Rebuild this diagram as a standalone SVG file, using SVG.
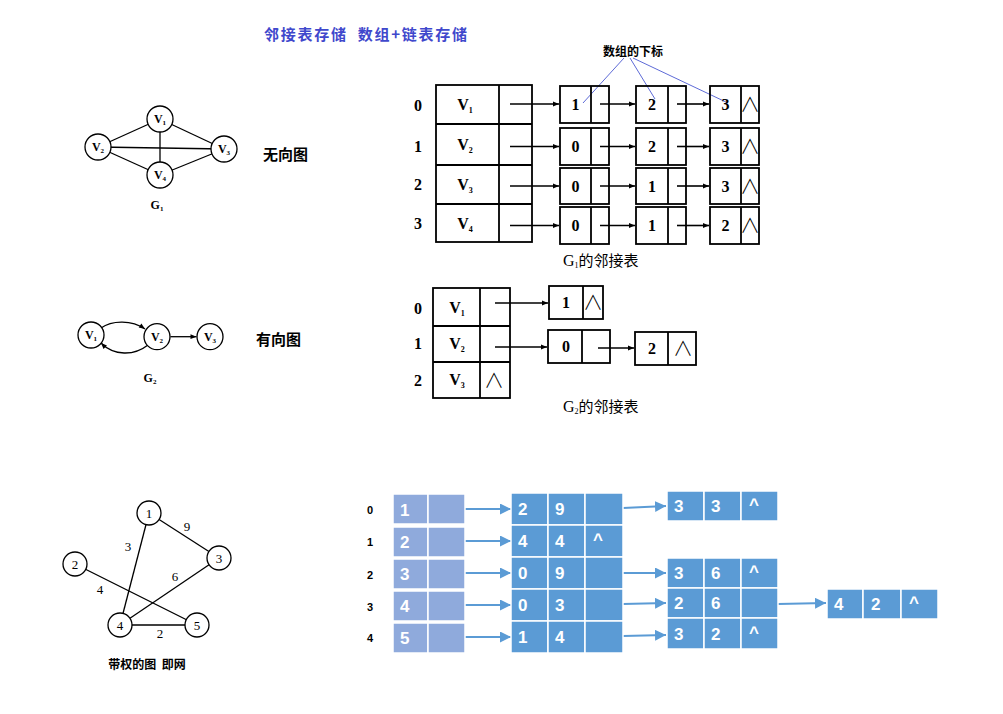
<svg xmlns="http://www.w3.org/2000/svg" width="1003" height="714" viewBox="0 0 1003 714">
<style>
.bg{fill:#fff}
.cir{fill:#fff;stroke:#000;stroke-width:1.3}
.edge{stroke:#000;stroke-width:1.3;fill:none}
.vl{font-family:"Liberation Serif",serif;font-size:12px;font-weight:bold;fill:#000;text-anchor:middle}
.sub{font-size:7px}
.cn{font-family:"Noto Sans CJK SC",sans-serif;font-weight:bold;fill:#000}
.box{fill:none;stroke:#000;stroke-width:1.8}
.dv{stroke:#000;stroke-width:1.8}
.num{font-family:"Liberation Serif",serif;font-size:16px;font-weight:bold;fill:#000;text-anchor:middle}
.nil{font-family:"Noto Sans CJK SC",sans-serif;font-size:20px;font-weight:300;fill:#000;text-anchor:middle}
.arr{stroke:#000;stroke-width:1.6;fill:none;marker-end:url(#ah)}
.ann{stroke:#3344cc;stroke-width:0.8;fill:none}
.hd{fill:#8faadc;stroke:#fff;stroke-width:1.5}
.nd{fill:#5b9bd5;stroke:#fff;stroke-width:1.5}
.wt{font-family:"Liberation Sans",sans-serif;font-size:17px;font-weight:bold;fill:#fff}
.bl{stroke:#5b9bd5;stroke-width:2;fill:none;marker-end:url(#bh)}
.ri{font-family:"Liberation Sans",sans-serif;font-size:11px;font-weight:bold;fill:#000;text-anchor:middle}
.wn{font-family:"Liberation Serif",serif;font-size:13px;fill:#000;text-anchor:middle}
</style>
<defs>
<marker id="ah" viewBox="0 0 10 10" refX="10" refY="5" markerWidth="8" markerHeight="6" markerUnits="userSpaceOnUse" orient="auto"><path d="M0,1 L10,5 L0,9 z" fill="#000"/></marker>
<marker id="ah2" viewBox="0 0 10 10" refX="10" refY="5" markerWidth="8" markerHeight="6" markerUnits="userSpaceOnUse" orient="auto"><path d="M0,1 L10,5 L0,9 z" fill="#000"/></marker>
<marker id="bh" viewBox="0 0 10 10" refX="10" refY="5" markerWidth="11" markerHeight="11" markerUnits="userSpaceOnUse" orient="auto"><path d="M0,0 L10,5 L0,10 z" fill="#5b9bd5"/></marker>
</defs>
<rect class="bg" x="0" y="0" width="1003" height="714"/>

<text x="264" y="40" font-family="Noto Sans CJK SC,sans-serif" font-weight="bold" font-size="15" fill="#3f48cc" textLength="203" style="white-space:pre">邻接表存储  数组+链表存储</text>

<!-- connectors -->
<g id="connectors">
  <!-- G1 edges -->
  <line class="edge" x1="160" y1="119" x2="98" y2="147"/>
  <line class="edge" x1="160" y1="119" x2="224" y2="149"/>
  <line class="edge" x1="160" y1="119" x2="160" y2="175"/>
  <line class="edge" x1="98" y1="147" x2="224" y2="149"/>
  <line class="edge" x1="98" y1="147" x2="160" y2="175"/>
  <line class="edge" x1="224" y1="149" x2="160" y2="175"/>
  <!-- G2 edges -->
  <path class="edge" d="M101,328 C112,320 132,320 145,329" marker-end="url(#ah2)"/>
  <path class="edge" d="M148,345 C134,356 114,356 101,343" marker-end="url(#ah2)"/>
  <line class="edge" x1="170.5" y1="336.7" x2="196.5" y2="336.7" marker-end="url(#ah2)"/>
  <!-- weighted graph edges -->
  <line class="edge" x1="149" y1="513" x2="219" y2="558"/>
  <line class="edge" x1="149" y1="513" x2="120" y2="625"/>
  <line class="edge" x1="75" y1="564" x2="197" y2="625"/>
  <line class="edge" x1="219" y1="558" x2="120" y2="625"/>
  <line class="edge" x1="120" y1="625" x2="197" y2="625"/>
  <!-- G1 table arrows -->
  <line class="arr" x1="510" y1="104" x2="559" y2="104"/>
  <line class="arr" x1="600" y1="104" x2="635" y2="104"/>
  <line class="arr" x1="677" y1="104" x2="709" y2="104"/>
  <line class="arr" x1="510" y1="146.5" x2="559" y2="146.5"/>
  <line class="arr" x1="600" y1="146.5" x2="635" y2="146.5"/>
  <line class="arr" x1="677" y1="146.5" x2="709" y2="146.5"/>
  <line class="arr" x1="510" y1="186" x2="559" y2="186"/>
  <line class="arr" x1="600" y1="186" x2="635" y2="186"/>
  <line class="arr" x1="677" y1="186" x2="709" y2="186"/>
  <line class="arr" x1="510" y1="225.5" x2="559" y2="225.5"/>
  <line class="arr" x1="600" y1="225.5" x2="635" y2="225.5"/>
  <line class="arr" x1="677" y1="225.5" x2="709" y2="225.5"/>
  <!-- annotation lines -->
  <line class="ann" x1="624" y1="58" x2="583" y2="103"/>
  <line class="ann" x1="630" y1="58" x2="655" y2="99"/>
  <line class="ann" x1="633" y1="58" x2="728" y2="103"/>
  <!-- G2 table arrows -->
  <line class="arr" x1="495" y1="303" x2="548" y2="303"/>
  <line class="arr" x1="495" y1="347" x2="547" y2="347"/>
  <line class="arr" x1="598" y1="348" x2="634" y2="348"/>
  <!-- blue arrows -->
  <line class="bl" x1="452" y1="509" x2="511" y2="509"/>
  <line class="bl" x1="452" y1="541" x2="511" y2="541"/>
  <line class="bl" x1="452" y1="573" x2="511" y2="573"/>
  <line class="bl" x1="452" y1="605" x2="511" y2="605"/>
  <line class="bl" x1="452" y1="637" x2="511" y2="637"/>
  <line class="bl" x1="623" y1="508" x2="666" y2="506"/>
  <line class="bl" x1="623" y1="573" x2="666" y2="573"/>
  <line class="bl" x1="623" y1="604" x2="666" y2="603"/>
  <line class="bl" x1="623" y1="636" x2="666" y2="635"/>
  <line class="bl" x1="778" y1="604" x2="826" y2="603"/>
</g>

<!-- G1 graph -->
<g id="g1-v1"><circle class="cir" cx="160" cy="119" r="13"/><text class="vl" x="160" y="123">V<tspan class="sub" dy="2">1</tspan></text></g>
<g id="g1-v2"><circle class="cir" cx="98" cy="147" r="13"/><text class="vl" x="98" y="151">V<tspan class="sub" dy="2">2</tspan></text></g>
<g id="g1-v3"><circle class="cir" cx="224" cy="149" r="13"/><text class="vl" x="224" y="153">V<tspan class="sub" dy="2">3</tspan></text></g>
<g id="g1-v4"><circle class="cir" cx="160" cy="175" r="13"/><text class="vl" x="160" y="179">V<tspan class="sub" dy="2">4</tspan></text></g>
<g id="g1-label"><text class="vl" x="157" y="209" font-weight="normal">G<tspan class="sub" dy="2">1</tspan></text></g>
<g id="undirected"><text class="cn" x="263" y="160" font-size="15">无向图</text></g>

<!-- G2 graph -->
<g id="g2-v1"><circle class="cir" cx="91" cy="335" r="13"/><text class="vl" x="91" y="339">V<tspan class="sub" dy="2">1</tspan></text></g>
<g id="g2-v2"><circle class="cir" cx="157" cy="336.7" r="13"/><text class="vl" x="157" y="340.7">V<tspan class="sub" dy="2">2</tspan></text></g>
<g id="g2-v3"><circle class="cir" cx="210" cy="336.7" r="13"/><text class="vl" x="210" y="340.7">V<tspan class="sub" dy="2">3</tspan></text></g>
<g id="g2-label"><text class="vl" x="150" y="382">G<tspan class="sub" dy="2">2</tspan></text></g>
<g id="directed"><text class="cn" x="256" y="345" font-size="15">有向图</text></g>

<!-- weighted graph -->
<g id="w1"><circle class="cir" cx="149" cy="513" r="12"/><text class="wn" x="149" y="518">1</text></g>
<g id="w2"><circle class="cir" cx="75" cy="564" r="12"/><text class="wn" x="75" y="569">2</text></g>
<g id="w3"><circle class="cir" cx="219" cy="558" r="12"/><text class="wn" x="219" y="563">3</text></g>
<g id="w4"><circle class="cir" cx="120" cy="625" r="12"/><text class="wn" x="120" y="630">4</text></g>
<g id="w5"><circle class="cir" cx="197" cy="625" r="12"/><text class="wn" x="197" y="630">5</text></g>
<g id="weights">
  <text class="wn" x="187" y="531">9</text>
  <text class="wn" x="128" y="551">3</text>
  <text class="wn" x="175" y="581">6</text>
  <text class="wn" x="100" y="594">4</text>
  <text class="wn" x="160" y="638">2</text>
</g>
<g id="weighted-caption"><text class="cn" x="147" y="669" font-size="12" text-anchor="middle" style="white-space:pre">带权的图  即网</text></g>

<!-- G1 adjacency table -->
<g id="g1-head">
  <rect class="box" x="436" y="85" width="96" height="157"/>
  <line class="dv" x1="499" y1="85" x2="499" y2="242"/>
  <line class="dv" x1="436" y1="124" x2="532" y2="124"/>
  <line class="dv" x1="436" y1="165" x2="532" y2="165"/>
  <line class="dv" x1="436" y1="204" x2="532" y2="204"/>
  <text class="num" x="418" y="111">0</text>
  <text class="num" x="418" y="152">1</text>
  <text class="num" x="418" y="190">2</text>
  <text class="num" x="418" y="229">3</text>
  <text class="num" x="465" y="110">V<tspan font-size="8" dy="3">1</tspan></text>
  <text class="num" x="465" y="150">V<tspan font-size="8" dy="3">2</tspan></text>
  <text class="num" x="465" y="190">V<tspan font-size="8" dy="3">3</tspan></text>
  <text class="num" x="465" y="229">V<tspan font-size="8" dy="3">4</tspan></text>
</g>
<g id="g1-row0">
  <rect class="box" x="560" y="86" width="49" height="37"/><line class="dv" x1="591" y1="86" x2="591" y2="123"/><text class="num" x="575.5" y="110" font-weight="normal">1</text>
  <rect class="box" x="636" y="86" width="50" height="37"/><line class="dv" x1="668" y1="86" x2="668" y2="123"/><text class="num" x="652" y="110">2</text>
  <rect class="box" x="710" y="86" width="49" height="37"/><line class="dv" x1="741" y1="86" x2="741" y2="123"/><text class="num" x="725.5" y="110">3</text><text class="nil" x="750" y="112">∧</text>
</g>
<g id="g1-row1">
  <rect class="box" x="560" y="128" width="49" height="37"/><line class="dv" x1="591" y1="128" x2="591" y2="165"/><text class="num" x="575.5" y="152">0</text>
  <rect class="box" x="636" y="128" width="50" height="37"/><line class="dv" x1="668" y1="128" x2="668" y2="165"/><text class="num" x="652" y="152">2</text>
  <rect class="box" x="710" y="128" width="49" height="37"/><line class="dv" x1="741" y1="128" x2="741" y2="165"/><text class="num" x="725.5" y="152">3</text><text class="nil" x="750" y="154">∧</text>
</g>
<g id="g1-row2">
  <rect class="box" x="560" y="168" width="49" height="36"/><line class="dv" x1="591" y1="168" x2="591" y2="204"/><text class="num" x="575.5" y="192">0</text>
  <rect class="box" x="636" y="168" width="50" height="36"/><line class="dv" x1="668" y1="168" x2="668" y2="204"/><text class="num" x="652" y="192">1</text>
  <rect class="box" x="710" y="168" width="49" height="36"/><line class="dv" x1="741" y1="168" x2="741" y2="204"/><text class="num" x="725.5" y="192">3</text><text class="nil" x="750" y="194">∧</text>
</g>
<g id="g1-row3">
  <rect class="box" x="560" y="207" width="49" height="37"/><line class="dv" x1="591" y1="207" x2="591" y2="244"/><text class="num" x="575.5" y="231">0</text>
  <rect class="box" x="636" y="207" width="50" height="37"/><line class="dv" x1="668" y1="207" x2="668" y2="244"/><text class="num" x="652" y="231">1</text>
  <rect class="box" x="710" y="207" width="49" height="37"/><line class="dv" x1="741" y1="207" x2="741" y2="244"/><text class="num" x="725.5" y="231">2</text><text class="nil" x="750" y="233">∧</text>
</g>
<g id="index-note"><text class="cn" x="633" y="56" font-size="12" text-anchor="middle">数组的下标</text></g>
<g id="g1-caption"><text x="563" y="266" font-family="Liberation Serif,serif" font-size="16" fill="#000">G<tspan font-size="8" dy="2">1</tspan><tspan dy="-2" font-family="Noto Sans CJK SC,sans-serif" font-size="15">的邻接表</tspan></text></g>

<!-- G2 adjacency table -->
<g id="g2-head">
  <rect class="box" x="433" y="288" width="77" height="110"/>
  <line class="dv" x1="480" y1="288" x2="480" y2="398"/>
  <line class="dv" x1="433" y1="326" x2="510" y2="326"/>
  <line class="dv" x1="433" y1="362" x2="510" y2="362"/>
  <text class="num" x="418" y="314">0</text>
  <text class="num" x="418" y="349">1</text>
  <text class="num" x="418" y="386">2</text>
  <text class="num" x="457" y="313">V<tspan font-size="8" dy="3">1</tspan></text>
  <text class="num" x="457" y="349">V<tspan font-size="8" dy="3">2</tspan></text>
  <text class="num" x="457" y="385">V<tspan font-size="8" dy="3">3</tspan></text>
  <text class="nil" x="494" y="388">∧</text>
</g>
<g id="g2-row0">
  <rect class="box" x="549" y="286" width="54" height="33"/><line class="dv" x1="583" y1="286" x2="583" y2="319"/><text class="num" x="566" y="308">1</text><text class="nil" x="593" y="310">∧</text>
</g>
<g id="g2-row1">
  <rect class="box" x="548" y="330" width="62" height="33"/><line class="dv" x1="582" y1="330" x2="582" y2="363"/><text class="num" x="566" y="352">0</text>
  <rect class="box" x="635" y="332" width="61" height="33"/><line class="dv" x1="668" y1="332" x2="668" y2="365"/><text class="num" x="652" y="354">2</text><text class="nil" x="683" y="356">∧</text>
</g>
<g id="g2-caption"><text x="563" y="412" font-family="Liberation Serif,serif" font-size="16" fill="#000">G<tspan font-size="8" dy="2">2</tspan><tspan dy="-2" font-family="Noto Sans CJK SC,sans-serif" font-size="15">的邻接表</tspan></text></g>

<!-- blue table -->
<g id="b-index">
  <text class="ri" x="370" y="514">0</text>
  <text class="ri" x="370" y="546">1</text>
  <text class="ri" x="370" y="579">2</text>
  <text class="ri" x="370" y="611">3</text>
  <text class="ri" x="370" y="642">4</text>
</g>
<g id="b-head">
  <rect class="hd" x="393" y="494" width="35" height="30"/><rect class="hd" x="428" y="494" width="37" height="30"/><text class="wt" x="400" y="516">1</text>
  <rect class="hd" x="393" y="527" width="35" height="30"/><rect class="hd" x="428" y="527" width="37" height="30"/><text class="wt" x="400" y="548">2</text>
  <rect class="hd" x="393" y="559" width="35" height="30"/><rect class="hd" x="428" y="559" width="37" height="30"/><text class="wt" x="400" y="580">3</text>
  <rect class="hd" x="393" y="591" width="35" height="30"/><rect class="hd" x="428" y="591" width="37" height="30"/><text class="wt" x="400" y="612">4</text>
  <rect class="hd" x="393" y="623" width="35" height="30"/><rect class="hd" x="428" y="623" width="37" height="30"/><text class="wt" x="400" y="644">5</text>
</g>
<g id="b-col1">
  <rect class="nd" x="511" y="493" width="37" height="32"/><rect class="nd" x="548" y="493" width="37" height="32"/><rect class="nd" x="585" y="493" width="38" height="32"/>
  <text class="wt" x="518" y="515">2</text><text class="wt" x="555" y="515">9</text>
  <rect class="nd" x="511" y="525" width="37" height="32"/><rect class="nd" x="548" y="525" width="37" height="32"/><rect class="nd" x="585" y="525" width="38" height="32"/>
  <text class="wt" x="518" y="547">4</text><text class="wt" x="555" y="547">4</text><text class="wt" x="593" y="545">^</text>
  <rect class="nd" x="511" y="557" width="37" height="32"/><rect class="nd" x="548" y="557" width="37" height="32"/><rect class="nd" x="585" y="557" width="38" height="32"/>
  <text class="wt" x="518" y="579">0</text><text class="wt" x="555" y="579">9</text>
  <rect class="nd" x="511" y="589" width="37" height="32"/><rect class="nd" x="548" y="589" width="37" height="32"/><rect class="nd" x="585" y="589" width="38" height="32"/>
  <text class="wt" x="518" y="611">0</text><text class="wt" x="555" y="611">3</text>
  <rect class="nd" x="511" y="621" width="37" height="32"/><rect class="nd" x="548" y="621" width="37" height="32"/><rect class="nd" x="585" y="621" width="38" height="32"/>
  <text class="wt" x="518" y="643">1</text><text class="wt" x="555" y="643">4</text>
</g>
<g id="b-col2">
  <rect class="nd" x="667" y="491" width="37" height="30"/><rect class="nd" x="704" y="491" width="37" height="30"/><rect class="nd" x="741" y="491" width="37" height="30"/>
  <text class="wt" x="674" y="512">3</text><text class="wt" x="711" y="512">3</text><text class="wt" x="749" y="510">^</text>
  <rect class="nd" x="667" y="558" width="37" height="30"/><rect class="nd" x="704" y="558" width="37" height="30"/><rect class="nd" x="741" y="558" width="37" height="30"/>
  <text class="wt" x="674" y="579">3</text><text class="wt" x="711" y="579">6</text><text class="wt" x="749" y="577">^</text>
  <rect class="nd" x="667" y="588" width="37" height="30"/><rect class="nd" x="704" y="588" width="37" height="30"/><rect class="nd" x="741" y="588" width="37" height="30"/>
  <text class="wt" x="674" y="609">2</text><text class="wt" x="711" y="609">6</text>
  <rect class="nd" x="667" y="618" width="37" height="31"/><rect class="nd" x="704" y="618" width="37" height="31"/><rect class="nd" x="741" y="618" width="37" height="31"/>
  <text class="wt" x="674" y="640">3</text><text class="wt" x="711" y="640">2</text><text class="wt" x="749" y="638">^</text>
</g>
<g id="b-col3">
  <rect class="nd" x="827" y="589" width="36" height="30"/><rect class="nd" x="863" y="589" width="38" height="30"/><rect class="nd" x="901" y="589" width="37" height="30"/>
  <text class="wt" x="834" y="610">4</text><text class="wt" x="871" y="610">2</text><text class="wt" x="909" y="608">^</text>
</g>
</svg>
